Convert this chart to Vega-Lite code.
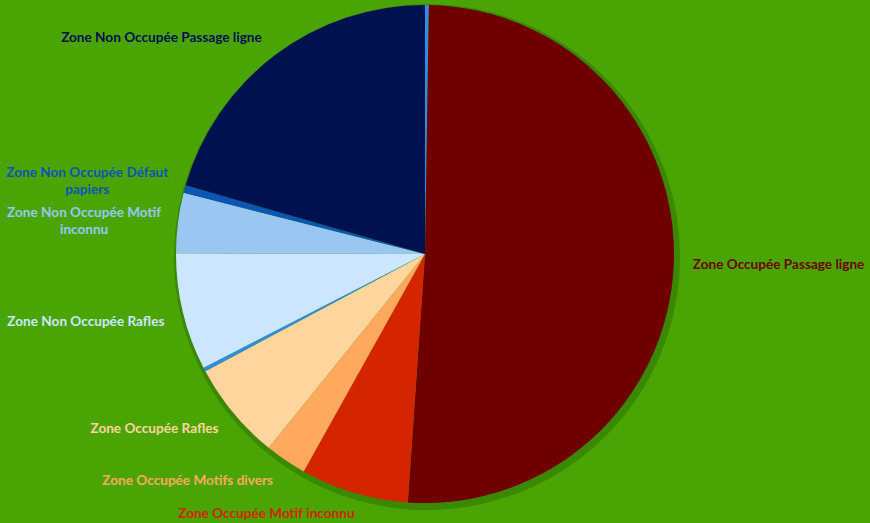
{
  "$schema": "https://vega.github.io/schema/vega-lite/v6.json",
  "width": 850,
  "height": 508,
  "autosize": "none",
  "padding": {"left": 0, "top": 0, "right": 20, "bottom": 15},
  "background": "#4aa504",
  "config": {"view": {"stroke": null}, "text": {"font": "Lato", "fontWeight": "bold", "fontSize": 13.6, "baseline": "middle"}},
  "data": {
    "values": [
      {"categorie": "Zone Occupée Défaut papiers", "valeur": 0.25, "rang": 0},
      {"categorie": "Zone Occupée Passage ligne", "valeur": 50.85, "rang": 1},
      {"categorie": "Zone Occupée Motif inconnu", "valeur": 7.0, "rang": 2},
      {"categorie": "Zone Occupée Motifs divers", "valeur": 2.7, "rang": 3},
      {"categorie": "Zone Occupée Rafles", "valeur": 6.4, "rang": 4},
      {"categorie": "Zone Non Occupée Motifs divers", "valeur": 0.25, "rang": 5},
      {"categorie": "Zone Non Occupée Rafles", "valeur": 7.6, "rang": 6},
      {"categorie": "Zone Non Occupée Motif inconnu", "valeur": 3.9, "rang": 7},
      {"categorie": "Zone Non Occupée Défaut papiers", "valeur": 0.5, "rang": 8},
      {"categorie": "Zone Non Occupée Passage ligne", "valeur": 20.55, "rang": 9}
    ]
  },
  "encoding": {
    "theta": {"field": "valeur", "type": "quantitative", "stack": true},
    "order": {"field": "rang", "type": "quantitative"}
  },
  "layer": [
    {
      "mark": {"type": "arc", "outerRadius": 253, "xOffset": 2, "yOffset": 3, "color": "#2c6b00", "opacity": 0.5}
    },
    {
      "mark": {"type": "arc", "outerRadius": 249},
      "encoding": {
        "color": {
          "field": "categorie",
          "type": "nominal",
          "legend": null,
          "scale": {
            "domain": ["Zone Occupée Défaut papiers", "Zone Occupée Passage ligne", "Zone Occupée Motif inconnu", "Zone Occupée Motifs divers", "Zone Occupée Rafles", "Zone Non Occupée Motifs divers", "Zone Non Occupée Rafles", "Zone Non Occupée Motif inconnu", "Zone Non Occupée Défaut papiers", "Zone Non Occupée Passage ligne"],
            "range": ["#2f8ee0", "#6e0000", "#d42400", "#ffa95f", "#ffd59e", "#2f8ee0", "#cce6ff", "#99c7f2", "#0a56b4", "#001150"]
          }
        }
      }
    },
    {
      "transform": [{"calculate": "datum.categorie == 'Zone Occupée Passage ligne' ? datum.categorie : ''", "as": "etiquette"}],
      "mark": {"type": "text", "radius": 268, "align": "left"},
      "encoding": {"color": {"field": "categorie", "type": "nominal"}, "text": {"field": "etiquette", "type": "nominal"}}
    },
    {
      "transform": [{"calculate": "datum.categorie == 'Zone Occupée Motif inconnu' ? datum.categorie : ''", "as": "etiquette"}],
      "mark": {"type": "text", "radius": 268, "align": "right", "dx": 6, "dy": 3},
      "encoding": {"color": {"field": "categorie", "type": "nominal"}, "text": {"field": "etiquette", "type": "nominal"}}
    },
    {
      "transform": [{"calculate": "datum.categorie == 'Zone Occupée Motifs divers' ? datum.categorie : ''", "as": "etiquette"}],
      "mark": {"type": "text", "radius": 268, "align": "right", "dx": -2, "dy": 5},
      "encoding": {"color": {"field": "categorie", "type": "nominal"}, "text": {"field": "etiquette", "type": "nominal"}}
    },
    {
      "transform": [{"calculate": "datum.categorie == 'Zone Occupée Rafles' ? datum.categorie : ''", "as": "etiquette"}],
      "mark": {"type": "text", "radius": 268, "align": "right", "dx": 0, "dy": 4},
      "encoding": {"color": {"field": "categorie", "type": "nominal"}, "text": {"field": "etiquette", "type": "nominal"}}
    },
    {
      "transform": [{"calculate": "datum.categorie == 'Zone Non Occupée Rafles' ? datum.categorie : ''", "as": "etiquette"}],
      "mark": {"type": "text", "radius": 268, "align": "right", "dx": 0, "dy": 5},
      "encoding": {"color": {"field": "categorie", "type": "nominal"}, "text": {"field": "etiquette", "type": "nominal"}}
    },
    {
      "transform": [{"calculate": "datum.categorie == 'Zone Non Occupée Motif inconnu' ? 'Zone Non Occupée Motif|inconnu' : ''", "as": "etiquette"}],
      "mark": {"type": "text", "radius": 268, "align": "center", "dx": -75, "dy": -7, "lineBreak": "|", "lineHeight": 17},
      "encoding": {"color": {"field": "categorie", "type": "nominal"}, "text": {"field": "etiquette", "type": "nominal"}}
    },
    {
      "transform": [{"calculate": "datum.categorie == 'Zone Non Occupée Défaut papiers' ? 'Zone Non Occupée Défaut|papiers' : ''", "as": "etiquette"}],
      "mark": {"type": "text", "radius": 268, "align": "center", "dx": -79, "dy": -11, "lineBreak": "|", "lineHeight": 17},
      "encoding": {"color": {"field": "categorie", "type": "nominal"}, "text": {"field": "etiquette", "type": "nominal"}}
    },
    {
      "transform": [{"calculate": "datum.categorie == 'Zone Non Occupée Passage ligne' ? datum.categorie : ''", "as": "etiquette"}],
      "mark": {"type": "text", "radius": 268, "align": "right", "dx": -2, "dy": -2},
      "encoding": {"color": {"field": "categorie", "type": "nominal"}, "text": {"field": "etiquette", "type": "nominal"}}
    }
  ]
}
